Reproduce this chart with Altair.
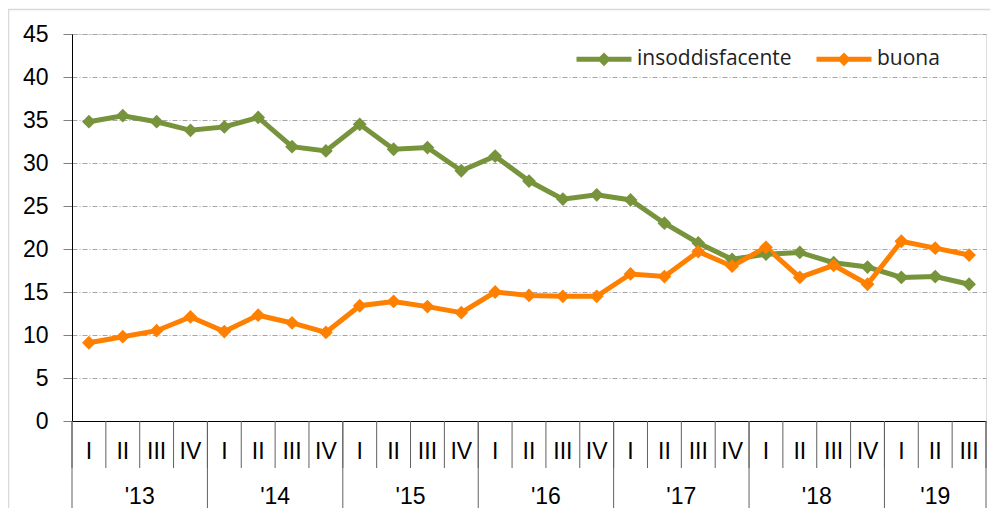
import altair as alt
import pandas as pd

quarters = ["I", "II", "III", "IV"] * 6 + ["I", "II", "III"]
years = ["'13", "'14", "'15", "'16", "'17", "'18", "'19"]
year_start = [0, 4, 8, 12, 16, 20, 24]
year_end = [4, 8, 12, 16, 20, 24, 27]

insoddisfacente = [34.8, 35.5, 34.8, 33.8, 34.2, 35.3, 31.9, 31.4,
                   34.5, 31.6, 31.8, 29.1, 30.8, 27.9, 25.8, 26.3,
                   25.7, 23.0, 20.7, 18.8, 19.4, 19.6, 18.4, 17.9,
                   16.7, 16.8, 15.9]
buona = [9.1, 9.8, 10.5, 12.1, 10.4, 12.3, 11.4, 10.3,
         13.4, 13.9, 13.3, 12.6, 15.0, 14.6, 14.5, 14.5,
         17.1, 16.8, 19.7, 18.0, 20.2, 16.7, 18.1, 15.9,
         20.9, 20.1, 19.3]

series_names = ["insoddisfacente", "buona"]
colors = ["#77933C", "#FF8000"]

n = len(quarters)
rows = []
for name, vals in zip(series_names, [insoddisfacente, buona]):
    for i, v in enumerate(vals):
        rows.append({"pos": i + 0.5, "valore": v, "serie": name})
df = pd.DataFrame(rows)

q_df = pd.DataFrame({"pos": [i + 0.5 for i in range(n)], "q": quarters})
y_df = pd.DataFrame({"pos": [(a + b) / 2 for a, b in zip(year_start, year_end)], "anno": years})
qsep_df = pd.DataFrame({"pos": list(range(n + 1))})
ysep_df = pd.DataFrame({"pos": year_start + [n]})

xscale = alt.Scale(domain=[0, n], nice=False, zero=False)
AX_FONT = "Liberation Sans"

x_enc = alt.X("pos:Q", scale=xscale,
              axis=alt.Axis(labels=False, ticks=False, grid=False, title=None,
                            domainColor="#000000", domainWidth=1))

legend = alt.Legend(orient="none", legendX=502, legendY=-5, direction="horizontal",
                    title=None, padding=0, columnPadding=14, labelOffset=3,
                    symbolType="M-1,0L1,0M-0.12,0L0,-0.12L0.12,0L0,0.12Z",
                    symbolSize=3025, symbolStrokeWidth=5,
                    labelFont="Open Sans", labelFontSize=21, labelColor="#222222")

lines = alt.Chart(df).mark_line(
    strokeWidth=5,
    point=alt.OverlayMarkDef(shape="diamond", size=190, filled=True, opacity=1)
).encode(
    x=x_enc,
    y=alt.Y("valore:Q", scale=alt.Scale(domain=[0, 45], nice=False),
            axis=alt.Axis(values=list(range(0, 50, 5)), title=None,
                          labelFont=AX_FONT, labelFontSize=23, labelColor="#000000",
                          labelPadding=15, tickSize=9, tickColor="#808080",
                          domainColor="#000000", domainWidth=1,
                          grid=True, gridColor="#a6a6a6", gridDash=[5, 2, 1, 2],
                          gridWidth=1)),
    color=alt.Color("serie:N", scale=alt.Scale(domain=series_names, range=colors),
                    sort=series_names, legend=legend),
    order=alt.Order("pos:Q"),
)

qlabels = alt.Chart(q_df).mark_text(font=AX_FONT, fontSize=23, color="#000000",
                                     baseline="middle", align="center").encode(
    x=alt.X("pos:Q", scale=xscale), y=alt.value(418), text="q:N")

ylabels = alt.Chart(y_df).mark_text(font=AX_FONT, fontSize=23, color="#000000",
                                     baseline="middle", align="center").encode(
    x=alt.X("pos:Q", scale=xscale), y=alt.value(463), text="anno:N")

qsep = alt.Chart(qsep_df).mark_rule(color="#606060", strokeWidth=1).encode(
    x=alt.X("pos:Q", scale=xscale), y=alt.value(387), y2=alt.value(434))

ysep = alt.Chart(ysep_df).mark_rule(color="#606060", strokeWidth=1).encode(
    x=alt.X("pos:Q", scale=xscale), y=alt.value(387), y2=alt.value(500))

frame_df = pd.DataFrame({"k": [0]})
frame_top = alt.Chart(frame_df).mark_rule(color="#d9d9d9", strokeWidth=1.5).encode(
    x=alt.value(-64), x2=alt.value(930), y=alt.value(-24.5))
frame_left = alt.Chart(frame_df).mark_rule(color="#d9d9d9", strokeWidth=1.5).encode(
    x=alt.value(-63.5), y=alt.value(-25), y2=alt.value(500))

chart = alt.layer(frame_top, frame_left, qsep, ysep, lines, qlabels, ylabels).properties(
    width=914, height=387,
    autosize=alt.AutoSizeParams(type="none"),
    padding={"left": 64, "top": 26, "right": 4, "bottom": 87},
).configure_view(stroke=None).configure(background="white")

chart.save("out.html", embed_options={"renderer": "svg", "actions": False})
